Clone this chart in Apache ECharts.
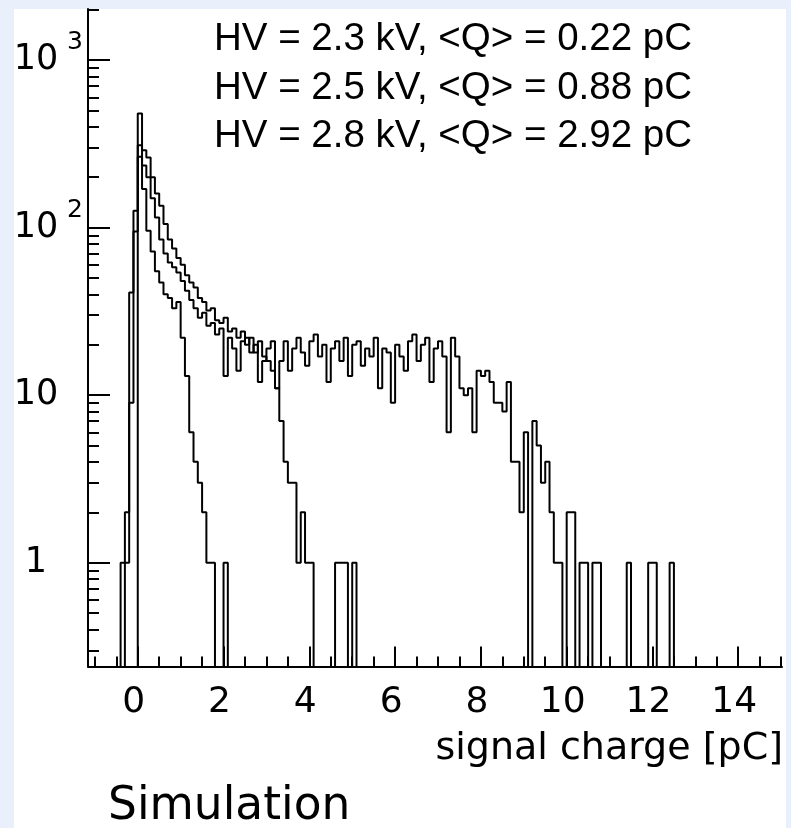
<!DOCTYPE html>
<html>
<head>
<meta charset="utf-8">
<title></title>
<script src="https://cdn.jsdelivr.net/npm/echarts/dist/echarts.min.js"></script>
<style>
html, body { margin: 0; padding: 0; background: #e9effb; }
</style>
</head>
<body>
<div id="app" style="width: 791px;height: 828px;"></div>
<script type="text/javascript">
// histogram binning (pC)
var binWidth = 0.1;
var firstEdge = -0.5;

// bin contents, one row per pC, starting at -0.5
var hv23 = [
	0, 0, 0, 0, 0, 480, 170, 96, 72, 55,
	47, 40, 38, 33, 36, 22, 13, 6, 4, 3,
	2, 1, 1, 0, 0, 1, 0
];
var hv25 = [
	0, 0, 1, 9, 95, 310, 290, 262, 200, 160,
	135, 105, 85, 75, 66, 60, 52, 47, 44, 38,
	36, 32, 33, 28, 27, 29, 24, 25, 22, 24,
	20, 22, 18, 21, 17, 16, 14, 11, 7, 4,
	3, 3, 1, 2, 1, 1, 0, 0, 0, 0,
	0, 1, 1, 1, 0, 1, 0
];
var hv28 = [
	0, 1, 2, 41, 126, 265, 235, 200, 150, 115,
	85, 70, 62, 58, 54, 48, 42, 37, 33, 29,
	31, 26, 27, 23, 25, 13, 22, 19, 14, 21,
	22, 18, 20, 12, 16, 19, 21, 11, 16, 21,
	14, 19, 22, 18, 15, 21, 23, 17, 20, 12,
	19, 21, 16, 22, 13, 20, 21, 15, 19, 17,
	22, 11, 19, 18, 9, 20, 17, 14, 21, 23,
	16, 20, 22, 12, 19, 21, 17, 6, 22, 17,
	11, 10, 11, 6, 14, 13, 14, 12, 9, 9,
	8, 12, 4, 4, 2, 6, 0, 7, 5, 3,
	4, 2, 1, 1, 0, 2, 2, 0, 1, 1,
	0, 1, 1, 0, 0, 0, 0, 0, 0, 1,
	0, 0, 0, 0, 1, 1, 0, 0, 0, 1,
	0
];

// axis ticks
var xMajor = [0, 2, 4, 6, 8, 10, 12, 14];
var xMinor = [-1, -0.5, 0.5, 1, 1.5, 2.5, 3, 3.5, 4.5, 5, 5.5, 6.5, 7, 7.5, 8.5, 9, 9.5,
	10.5, 11, 11.5, 12.5, 13, 13.5, 14.5, 15];
var yMajor = [1, 10, 100, 1000];
var yMinor = [0.3, 0.4, 0.5, 0.6, 0.7, 0.8, 0.9, 2, 3, 4, 5, 6, 7, 8, 9,
	20, 30, 40, 50, 60, 70, 80, 90, 200, 300, 400, 500, 600, 700, 800, 900, 2000];

var labels = [
	'HV = 2.3 kV, <Q> = 0.22 pC',
	'HV = 2.5 kV, <Q> = 0.88 pC',
	'HV = 2.8 kV, <Q> = 2.92 pC'
];

var xMin = -1.16, xMax = 15.02;
var yMin = Math.log10(0.24), yMax = Math.log10(2020);
var empty = -3; // empty bins fall below the frame

function lg(v) {
	return v > 0 ? Math.log10(v) : empty;
}

function steps(counts) {
	var pts = [];
	for (var i = 0; i < counts.length; i++) {
		pts.push([firstEdge + i * binWidth, lg(counts[i])]);
	}
	pts.push([firstEdge + counts.length * binWidth, empty]);
	return pts;
}

var font = '"DejaVu Sans"';

function hist(name, counts) {
	return {
		name: name,
		type: 'line',
		step: 'end',
		symbol: 'none',
		clip: true,
		silent: true,
		lineStyle: { color: '#000', width: 2 },
		data: steps(counts)
	};
}

var myChart = echarts.init(document.getElementById('app'));

var option = {
	animation: false,
	backgroundColor: '#e9effb',
	grid: { left: 88, right: 9, top: 9, bottom: 161.5 },
	graphic: [
		{ type: 'rect', z: -10, shape: { x: 14, y: 9, width: 772, height: 819 }, style: { fill: '#fff' } },
		{ type: 'text', x: 214, y: 39, style: { text: labels[0], font: '38.5px "Liberation Sans"', fill: '#000', verticalAlign: 'middle' } },
		{ type: 'text', x: 214, y: 88, style: { text: labels[1], font: '38.5px "Liberation Sans"', fill: '#000', verticalAlign: 'middle' } },
		{ type: 'text', x: 214, y: 136, style: { text: labels[2], font: '38.5px "Liberation Sans"', fill: '#000', verticalAlign: 'middle' } },
		{ type: 'text', x: 783, y: 749, style: { text: 'signal charge [pC]', font: '38px ' + font, fill: '#000', align: 'right', verticalAlign: 'middle' } },
		{ type: 'text', x: 108, y: 807, style: { text: 'Simulation', font: '45.5px ' + font, fill: '#000', verticalAlign: 'middle' } }
	],
	xAxis: [{
		type: 'value',
		position: 'bottom',
		offset: 0,
		min: xMin,
		max: xMax,
		splitLine: { show: false },
		axisLine: { onZero: false, lineStyle: { color: '#000', width: 2 } },
		axisTick: { inside: true, length: 20, customValues: xMajor, lineStyle: { color: '#000', width: 2 } },
		axisLabel: {
			customValues: xMajor,
			color: '#000',
			fontFamily: 'DejaVu Sans',
			fontSize: 36,
			margin: 18,
			padding: [0, 8, 0, 0]
		}
	}, {
		type: 'value',
		position: 'bottom',
		offset: 0,
		min: xMin,
		max: xMax,
		splitLine: { show: false },
		axisLine: { show: false, onZero: false },
		axisTick: { inside: true, length: 10, customValues: xMinor, lineStyle: { color: '#000', width: 2 } },
		axisLabel: { show: false }
	}],
	yAxis: [{
		type: 'value',
		position: 'left',
		offset: 0,
		min: yMin,
		max: yMax,
		splitLine: { show: false },
		axisLine: { onZero: false, lineStyle: { color: '#000', width: 2 } },
		axisTick: { inside: true, length: 22, customValues: yMajor.map(Math.log10), lineStyle: { color: '#000', width: 2 } },
		axisLabel: {
			customValues: yMajor.map(Math.log10),
			align: 'left',
			margin: 75,
			formatter: function (v) {
				var p = Math.round(v);
				if (p === 0) return '{b|1}';
				if (p === 1) return '{b|10}';
				return '{b|10}{s|' + p + '}';
			},
			rich: {
				b: { fontFamily: 'DejaVu Sans', fontSize: 35, color: '#000', width: 46, align: 'center', lineHeight: 60 },
				s: { fontFamily: 'DejaVu Sans', fontSize: 25, color: '#000', lineHeight: 26, verticalAlign: 'top', padding: [0, 0, 0, 8] }
			}
		}
	}, {
		type: 'value',
		position: 'left',
		offset: 0,
		min: yMin,
		max: yMax,
		splitLine: { show: false },
		axisLine: { show: false, onZero: false },
		axisTick: { inside: true, length: 11, customValues: yMinor.map(Math.log10), lineStyle: { color: '#000', width: 2 } },
		axisLabel: { show: false }
	}],
	series: [
		hist('2.3 kV', hv23),
		hist('2.5 kV', hv25),
		hist('2.8 kV', hv28)
	]
};

myChart.setOption(option);
</script>
</body>
</html>
